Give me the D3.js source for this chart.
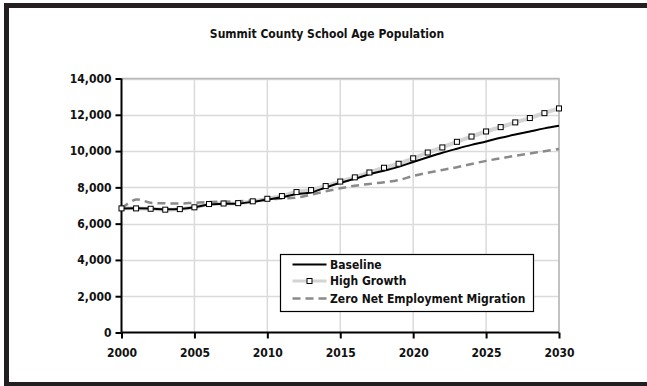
<!DOCTYPE html>
<html>
<head>
<meta charset="utf-8">
<script src="https://cdn.jsdelivr.net/npm/d3@7"></script>
<style>
  html, body { margin: 0; padding: 0; background: #fff; }
  svg { display: block; }
  text { font-family: "DejaVu Sans Condensed", "DejaVu Sans", sans-serif; font-weight: bold; fill: #111; }
</style>
</head>
<body>
<script>
// School age population projections, Summit County, 2000-2030
const years = d3.range(2000, 2031);
const baseline = [6840, 6850, 6830, 6790, 6810, 6900, 7060, 7090, 7110, 7200,
                  7330, 7450, 7630, 7720, 7990, 8250, 8470, 8720, 8920, 9130,
                  9400, 9660, 9910, 10130, 10340, 10530, 10730, 10910, 11080, 11250, 11390];
const highGrowth = [6840, 6840, 6820, 6770, 6800, 6900, 7080, 7110, 7130, 7230,
                    7370, 7520, 7740, 7850, 8070, 8320, 8550, 8820, 9080, 9300,
                    9600, 9920, 10200, 10510, 10800, 11080, 11320, 11580, 11820, 12090, 12350];
const zeroNet = [6840, 7330, 7150, 7120, 7110, 7150, 7190, 7210, 7240, 7270,
                 7330, 7380, 7440, 7600, 7780, 7950, 8090, 8190, 8280, 8400,
                 8630, 8800, 8960, 9110, 9290, 9460, 9600, 9740, 9870, 9990, 10120];
const yTicks = [0, 2000, 4000, 6000, 8000, 10000, 12000, 14000];
const xTicks = [2000, 2005, 2010, 2015, 2020, 2025, 2030];
const seriesNames = ["Baseline", "High Growth", "Zero Net Employment Migration"];
const chartTitle = "Summit County School Age Population";

const W = 647, H = 386;
const plot = { left: 121.5, right: 559, top: 78.5, bottom: 332.5 };

const svg = d3.select("body").append("svg").attr("width", W).attr("height", H);

// outer frame
svg.append("rect")
  .attr("x", 6.5).attr("y", 5.5).attr("width", 720).attr("height", 379)
  .attr("fill", "none").attr("stroke", "#231f20").attr("stroke-width", 5);

const x = d3.scaleLinear().domain([2000, 2030]).range([plot.left, plot.right]);
const y = d3.scaleLinear().domain([0, 14000]).range([plot.bottom, plot.top]);

// title
svg.append("text")
  .attr("x", 327).attr("y", 38)
  .attr("text-anchor", "middle")
  .attr("font-size", 12)
  .text(chartTitle);

// gridlines
const grid = svg.append("g");
grid.selectAll(".hg").data(yTicks.filter(d => d > 0)).join("line")
  .attr("x1", plot.left).attr("x2", plot.right)
  .attr("y1", d => Math.round(y(d)) + 0.5).attr("y2", d => Math.round(y(d)) + 0.5)
  .attr("stroke", "#dadada").attr("stroke-width", 1.5);
grid.selectAll(".vg").data(xTicks.filter(d => d > 2000)).join("line")
  .attr("x1", d => x(d)).attr("x2", d => x(d))
  .attr("y1", plot.top).attr("y2", plot.bottom)
  .attr("stroke", "#dadada").attr("stroke-width", 1.5);
// plot area border on top and right
svg.append("path")
  .attr("d", `M${plot.left},${plot.top}H${plot.right}V${plot.bottom}`)
  .attr("fill", "none").attr("stroke", "#b8b8b8").attr("stroke-width", 1.5);

// axes
const yAxis = d3.axisLeft(y).tickValues(yTicks).tickSize(6).tickPadding(4)
  .tickFormat(d3.format(","));
const xAxis = d3.axisBottom(x).tickValues(xTicks).tickSize(6).tickPadding(8)
  .tickFormat(d3.format("d"));

const gy = svg.append("g").attr("transform", `translate(${plot.left},0)`).call(yAxis);
const gx = svg.append("g").attr("transform", `translate(0,${plot.bottom})`).call(xAxis);
[gx, gy].forEach(g => {
  g.select(".domain").attr("stroke", "#000").attr("stroke-width", 2);
  g.selectAll(".tick line").attr("stroke", "#000").attr("stroke-width", 2);
  g.selectAll(".tick text").attr("font-size", 12).attr("fill", "#111")
    .attr("font-family", "'DejaVu Sans Condensed', 'DejaVu Sans', sans-serif")
    .attr("font-weight", "bold");
});
gx.select(".domain").attr("d", `M${plot.left},0H${plot.right}`);
gy.select(".domain").attr("d", `M0,${plot.bottom}V${plot.top}`);
gx.selectAll(".tick text").attr("dy", "0.9em");

// lines
const line = d3.line().x((d, i) => x(years[i])).y(d => y(d)).curve(d3.curveCatmullRom.alpha(0.5));

svg.append("path").datum(highGrowth).attr("d", line)
  .attr("fill", "none").attr("stroke", "#d4d4d4").attr("stroke-width", 4);

svg.append("path").datum(zeroNet).attr("d", line)
  .attr("fill", "none").attr("stroke", "#8a8a8a").attr("stroke-width", 2.5)
  .attr("stroke-dasharray", "8,5");

svg.append("path").datum(baseline).attr("d", line)
  .attr("fill", "none").attr("stroke", "#000").attr("stroke-width", 2);

svg.append("g").selectAll("rect").data(highGrowth).join("rect")
  .attr("x", (d, i) => x(years[i]) - 2.5).attr("y", d => y(d) - 2.5)
  .attr("width", 5).attr("height", 5)
  .attr("fill", "#fff").attr("stroke", "#000").attr("stroke-width", 1);

// legend
const lg = svg.append("g").attr("transform", "translate(280,254)");
lg.append("rect").attr("x", 0.5).attr("y", 0.5).attr("width", 253).attr("height", 57)
  .attr("fill", "#fff").attr("stroke", "#000").attr("stroke-width", 1.2);
const rows = [10.5, 27, 44.5];
const lx1 = 12.5, lx2 = 46.5;
lg.append("line").attr("x1", lx1).attr("x2", lx2).attr("y1", rows[0]).attr("y2", rows[0])
  .attr("stroke", "#000").attr("stroke-width", 2);
lg.append("line").attr("x1", lx1).attr("x2", lx2).attr("y1", rows[1]).attr("y2", rows[1])
  .attr("stroke", "#d4d4d4").attr("stroke-width", 3);
lg.append("rect").attr("x", (lx1 + lx2) / 2 - 2.5).attr("y", rows[1] - 2.5).attr("width", 5).attr("height", 5)
  .attr("fill", "#fff").attr("stroke", "#000").attr("stroke-width", 1);
lg.append("line").attr("x1", lx1).attr("x2", lx2).attr("y1", rows[2]).attr("y2", rows[2])
  .attr("stroke", "#8a8a8a").attr("stroke-width", 2.5).attr("stroke-dasharray", "8,5");
lg.selectAll("text").data(seriesNames).join("text")
  .attr("x", 50).attr("y", (d, i) => rows[i] + 4.3)
  .attr("font-size", 12)
  .text(d => d);
</script>
</body>
</html>
